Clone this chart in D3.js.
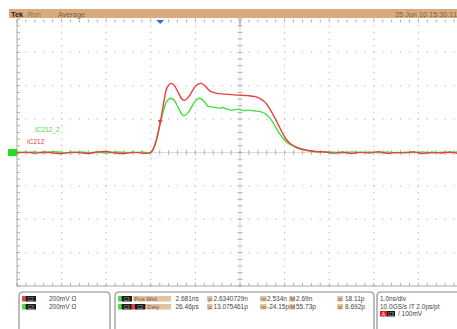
<!DOCTYPE html>
<html><head><meta charset="utf-8">
<script src="https://cdn.jsdelivr.net/npm/d3@7"></script>
<style>body{margin:0;background:#fff}svg{display:block}text{font-family:"Liberation Sans",Arial,sans-serif}</style>
</head><body><svg id="c" width="457" height="329"></svg>
<script>
// ---- data (time in ns from left edge of screen, voltage in mV) ----
const tRed = [0,0.2,0.4,0.6,0.8,1.0,1.2,1.4,1.6,1.8,2.0,2.2,2.4,2.6,2.8,3.0,
  3.09,3.21,3.30,3.36,3.45,3.52,3.61,3.70,3.77,3.86,3.97,4.06,4.13,4.22,4.33,4.46,4.66,4.93,5.16,5.34,5.47,5.58,5.67,5.76,5.85,5.94,6.03,6.14,6.28,6.46,6.68,6.91,
  7.1,7.3,7.5,7.7,7.9,8.1,8.3,8.5,8.7,8.9,9.1,9.3,9.5,9.7,9.9,10.1,10.3];
const vRed = [-3,2,-4,3,-2,-7,2,-1,-6,3,6,-3,-6,2,-4,0,
  45,177,314,386,414,404,362,320,314,338,386,410,414,398,368,356,350,344,341,335,320,296,260,218,171,123,81,51,30,15,6,3,
  -4,3,-6,2,-3,5,-5,1,-2,4,-7,2,-3,3,-5,1,-2];
const tGreen = [0,0.2,0.4,0.6,0.8,1.0,1.2,1.4,1.6,1.8,2.0,2.2,2.4,2.6,2.8,3.0,
  3.09,3.21,3.30,3.36,3.45,3.52,3.61,3.68,3.74,3.83,3.95,4.04,4.10,4.19,4.28,4.39,4.55,4.62,4.69,4.82,4.96,5.09,5.22,5.36,5.49,5.58,5.67,5.76,5.85,5.94,6.03,6.14,6.28,6.46,6.68,6.91,
  7.1,7.3,7.5,7.7,7.9,8.1,8.3,8.5,8.7,8.9,9.1,9.3,9.5,9.7,9.9,10.1,10.3];
const vGreen = [3,-1,4,-2,5,1,-3,4,-1,2,-4,3,1,-2,3,1,
  42,171,266,308,325,314,272,236,221,236,290,320,325,308,278,272,266,270,262,254,260,251,254,248,242,230,206,171,129,93,66,45,27,15,6,3,
  2,-3,4,-1,3,-2,4,-3,2,-1,3,-4,2,-1,4,-2,1];
const chLabels = ["IC212_2","IC212"];
const scaleText = ["200mV \u03a9","200mV \u03a9"];
const measNames = ["Pos Wid","Dely"];
const measValue = ["2.681ns","26.46ps"];
const measMean = ["2.6340729n","13.075461p"];
const measMin = ["2.534n","-24.15p"];
const measMax = ["2.69n","55.73p"];
const measStd = ["18.11p","8.692p"];
const horizText = ["1.0ns/div","10.0GS/s IT 2.0ps/pt"];
const trigText = "/ 100mV";
const statusText = ["Tek","Run","Average"];
const dateText = "25 Jun 10 15:30:11";

const svg = d3.select("#c");
const x = d3.scaleLinear().domain([0,10]).range([17,463]);
const y = d3.scaleLinear().domain([-800,800]).range([286,19]);
const RED="#e8413c", GREEN="#45de45", TAN="#d9aa7c";

// top status bar
svg.append("rect").attr("x",9).attr("y",9).attr("width",448).attr("height",9).attr("fill",TAN);
svg.append("text").attr("x",11).attr("y",16.6).attr("font-size",7.3).attr("font-weight","bold").attr("fill","#222").text(statusText[0]);
svg.append("text").attr("x",27.5).attr("y",16.6).attr("font-size",7.3).attr("fill","#8a7662").text(statusText[1]);
svg.append("text").attr("x",58).attr("y",16.6).attr("font-size",7.3).attr("fill","#7a6652").text(statusText[2]);
svg.append("text").attr("x",395).attr("y",16.6).attr("font-size",7.3).attr("fill","#7a6652").text(dateText);

// graticule
const g = svg.append("g");
const minorX = d3.range(0,10.01,0.2), minorY = d3.range(-800,800.1,40);
for (let d=1; d<10; d++) { if(d===5) continue;
  minorY.forEach(v=>g.append("rect").attr("x",x(d)-0.6).attr("y",y(v)-0.6).attr("width",1.2).attr("height",1.2).attr("fill","#bdbdbd"));
}
for (let v=-600; v<=600; v+=200) { if(v===0) continue;
  minorX.forEach(t=>g.append("rect").attr("x",x(t)-0.6).attr("y",y(v)-0.6).attr("width",1.2).attr("height",1.2).attr("fill","#bdbdbd"));
}
g.append("line").attr("x1",x(0)).attr("x2",457).attr("y1",y(0)).attr("y2",y(0)).attr("stroke","#cfcfcf").attr("stroke-width",0.7);
g.append("line").attr("x1",x(5)).attr("x2",x(5)).attr("y1",y(800)).attr("y2",y(-800)).attr("stroke","#cfcfcf").attr("stroke-width",0.7);
minorX.forEach(t=>g.append("line").attr("x1",x(t)).attr("x2",x(t)).attr("y1",y(0)-2.5).attr("y2",y(0)+2.5).attr("stroke","#a0a0a0").attr("stroke-width",0.8));
minorY.forEach(v=>g.append("line").attr("x1",x(5)-2.5).attr("x2",x(5)+2.5).attr("y1",y(v)).attr("y2",y(v)).attr("stroke","#a0a0a0").attr("stroke-width",0.8));
g.append("line").attr("x1",x(0)).attr("x2",x(0)).attr("y1",y(800)).attr("y2",y(-800)).attr("stroke","#a0a0a0").attr("stroke-width",0.9);
g.append("line").attr("x1",x(0)).attr("x2",457).attr("y1",y(-800)).attr("y2",y(-800)).attr("stroke","#a0a0a0").attr("stroke-width",0.9);
minorX.forEach(t=>{
  g.append("line").attr("x1",x(t)).attr("x2",x(t)).attr("y1",y(800)+0.5).attr("y2",y(800)+3.5).attr("stroke","#9a9a9a").attr("stroke-width",0.8);
  g.append("line").attr("x1",x(t)).attr("x2",x(t)).attr("y1",y(-800)-3).attr("y2",y(-800)).attr("stroke","#9a9a9a").attr("stroke-width",0.8);
});
minorY.forEach(v=>g.append("line").attr("x1",x(0)).attr("x2",x(0)+3).attr("y1",y(v)).attr("y2",y(v)).attr("stroke","#9a9a9a").attr("stroke-width",0.8));
g.append("line").attr("x1",x(5)).attr("x2",x(5)).attr("y1",y(800)).attr("y2",y(800)+8).attr("stroke","#9a9a9a").attr("stroke-width",0.8);

// trigger position marker
svg.append("path").attr("d",`M${x(3.21)-4},${y(800)+1} L${x(3.21)+4},${y(800)+1} L${x(3.21)},${y(800)+5} Z`).attr("fill","#2e6fd6");

// ground marker
svg.append("rect").attr("x",8).attr("y",y(0)-3.5).attr("width",9).attr("height",7).attr("fill","#22dd22");

// traces
const line = d3.line().x(d=>x(d[0])).y(d=>y(d[1])).curve(d3.curveCatmullRom.alpha(0.5));
svg.append("path").datum(tGreen.map((t,i)=>[t,vGreen[i]])).attr("d",line).attr("fill","none").attr("stroke",GREEN).attr("stroke-width",1.4);
svg.append("path").datum(tRed.map((t,i)=>[t,vRed[i]])).attr("d",line).attr("fill","none").attr("stroke",RED).attr("stroke-width",1.4);
const mx=x(3.21), my=y(177);
svg.append("path").attr("d",`M${mx-2.5},${my-3} L${mx+2.5},${my-3} L${mx},${my+1} Z`).attr("fill",RED);

// channel labels
svg.append("text").attr("x",35).attr("y",132).attr("font-size",6.5).attr("fill",GREEN).text(chLabels[0]);
svg.append("text").attr("x",27).attr("y",143.5).attr("font-size",6.5).attr("fill",RED).text(chLabels[1]);

// bottom readout boxes
function box(x0,x1){ svg.append("path").attr("d",`M${x0},335 L${x0},${296} Q${x0},292 ${x0+4},292 L${x1-4},292 Q${x1},292 ${x1},296 L${x1},335`).attr("fill","none").attr("stroke","#858585").attr("stroke-width",1.1); }
box(19,110); box(115,374); box(377,470);
function badge(x0,yTop,col,label){
  svg.append("rect").attr("x",x0).attr("y",yTop).attr("width",3.5).attr("height",5.5).attr("fill",col);
  svg.append("rect").attr("x",x0+3.5).attr("y",yTop).attr("width",10.5).attr("height",5.5).attr("fill","#1a1a1a");
  svg.append("text").attr("x",x0+8.7).attr("y",yTop+4.6).attr("font-size",4.8).attr("text-anchor","middle").attr("fill","#aaa").text(label);
}
const rowsY=[296,304];
badge(22,rowsY[0],RED,"C2"); badge(22,rowsY[1],GREEN,"C3");
scaleText.forEach((s,i)=>svg.append("text").attr("x",49).attr("y",rowsY[i]+5.3).attr("font-size",6.5).attr("fill","#444").text(s));

badge(118,rowsY[0],GREEN,"C3"); badge(118,rowsY[1],GREEN,"C3"); badge(131.5,rowsY[1],RED,"C2");
function tan(x0,w,yTop,label){
  svg.append("rect").attr("x",x0).attr("y",yTop).attr("width",w).attr("height",5.5).attr("fill","#e4c29e");
  if(label) svg.append("text").attr("x",x0+1.3).attr("y",yTop+4.8).attr("font-size",6).attr("fill","#6a5540").text(label);
}
function val(x0,yT,s){ svg.append("text").attr("x",x0).attr("y",yT+5.3).attr("font-size",6.5).attr("fill","#444").text(s); }
measNames.forEach((n,i)=>{
  const yT=rowsY[i];
  if(i===0) tan(133,38,yT,n); else tan(146,25,yT,n);
  val(175.5,yT,measValue[i]);
  tan(207,5.5,yT,"\u00b5"); val(213.5,yT,measMean[i]);
  tan(260,6.5,yT,"m"); val(267,yT,measMin[i]);
  tan(289,6,yT,"M"); val(296,yT,measMax[i]);
  tan(337,6,yT,"\u03c3"); val(345,yT,measStd[i]);
});
horizText.forEach((s,i)=>svg.append("text").attr("x",380).attr("y",rowsY[i]+5.3).attr("font-size",6.5).attr("fill","#444").text(s));
svg.append("rect").attr("x",380).attr("y",311).attr("width",7).attr("height",5.5).attr("fill","#e02020");
svg.append("text").attr("x",383.5).attr("y",315.6).attr("font-size",5).attr("text-anchor","middle").attr("fill","#fff").text("A");
svg.append("rect").attr("x",387).attr("y",311).attr("width",8).attr("height",5.5).attr("fill","#1a1a1a");
svg.append("text").attr("x",391).attr("y",315.6).attr("font-size",4.5).attr("text-anchor","middle").attr("fill","#aaa").text("C3");
svg.append("text").attr("x",398).attr("y",316.3).attr("font-size",6.5).attr("fill","#444").text(trigText);
</script></body></html>
